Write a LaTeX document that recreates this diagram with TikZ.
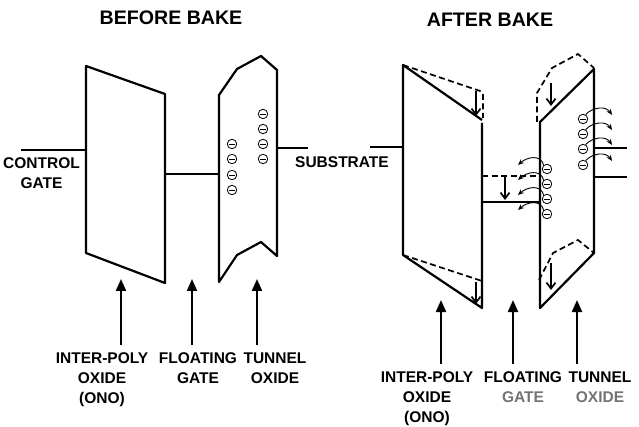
\documentclass[tikz,border=0pt]{standalone}
\usepackage{fontspec}
\setmainfont{Liberation Sans}
\usetikzlibrary{arrows.meta}
\tikzstyle{electron}=[circle,draw=black,fill=white,line width=0.8pt,
                      inner sep=0pt,minimum size=9.5pt,
                      path picture={\draw[line width=0.8pt]
                        ([xshift=1.6pt]path picture bounding box.west) --
                        ([xshift=-1.6pt]path picture bounding box.east);}]
\tikzstyle{layer}=[line width=2.2pt,line join=round]
\tikzstyle{oldedge}=[line width=1.7pt,dash pattern=on 6pt off 3.5pt]
\tikzstyle{sink}=[line width=1.7pt,-{Straight Barb[length=6pt,width=9pt]}]
\tikzstyle{hop}=[line width=0.9pt,-{Stealth[length=6pt,width=5pt]}]
\tikzstyle{pointer}=[line width=2.2pt,shorten <=8pt,
                     -{Triangle[length=12pt,width=10pt]}]
\tikzstyle{parttext}=[font=\bfseries\fontsize{15.5}{20}\selectfont,
                      align=center,inner sep=0pt]
\tikzstyle{headtext}=[font=\bfseries\fontsize{19.6}{22}\selectfont,
                      inner sep=0pt]

\begin{document}
\begin{tikzpicture}[x=1pt,y=-1pt]
    \useasboundingbox (0,0) rectangle (639,427);
    \node (before) at (171,18) [headtext]{BEFORE BAKE};
    \node (after) at (490,20) [headtext]{AFTER BAKE};
    \node (cg) at (41.5,173) [parttext]{CONTROL\\GATE};
    \node (sub) at (342,162) [parttext]{SUBSTRATE};

    % before bake
    \draw[layer] (86,66) -- (165,94) -- (165,283) -- (86,253) -- cycle;
    \draw[layer] (219,95) -- (237,69) -- (261,56) -- (277,70) -- (277,256)
        -- (261,242) -- (237,255) -- (219,282) -- cycle;
    \draw[layer] (21,150) -- (86,150) (165,174) -- (219,174)
        (277,148) -- (308,148);
    \foreach \i/\x/\y in {1/232/144,2/232/159,3/232/175,4/232/190,
                          5/263/114,6/263/129,7/263/144,8/263/159}
        \node (eo\i) at (\x,\y) [electron]{};

    % after bake
    \draw[layer] (482,123) -- (482,308) -- (403,255) -- (403,65) -- (482,120);
    \draw[oldedge,rounded corners=3pt] (403,65) -- (483,92) -- (483,118);
    \draw[oldedge] (403,255) -- (482,281);
    \draw[sink] (476,91) -- (476,116);
    \draw[sink] (476,282) -- (476,304);
    \draw[layer] (370,147) -- (403,147) (482,202) -- (540,202);
    \draw[oldedge] (482,176) -- (540,176);
    \draw[sink] (505,176) -- (505,200);
    \draw[layer] (540,122) -- (594,69) -- (594,253) -- (540,308) -- cycle;
    \draw[oldedge] (537,122) -- (537,93) -- (552,68) -- (578,54) -- (594,68);
    \draw[oldedge] (539,280) -- (553,253) -- (578,240) -- (594,253);
    \draw[sink] (551,83) -- (551,106);
    \draw[sink] (551,263) -- (551,290);
    \draw[layer] (594,148) -- (627,148) (594,177) -- (627,177);
    \foreach \i/\y in {1/169,2/184,3/199,4/214} {
        \node (ea\i) at (547,\y) [electron]{};
        \coordinate (ha\i) at (518,\y-4);
        \draw[hop] (ea\i.130) .. controls +(-3,-11) and +(9,-8) .. (ha\i);
    }
    \foreach \i/\y in {1/119,2/134,3/149,4/165} {
        \node (eb\i) at (583,\y) [electron]{};
        \coordinate (hb\i) at (612,\y-4);
        \draw[hop] (eb\i.60) .. controls +(8,-8) and +(-6,-9) .. (hb\i);
    }

    % labels
    \node (ipo1) at (102,352.5) [parttext,anchor=north]{INTER-POLY\\OXIDE\\(ONO)};
    \node (fg1) at (198,352.5) [parttext,anchor=north]{FLOATING\\GATE};
    \node (to1) at (275,352.5) [parttext,anchor=north]{TUNNEL\\OXIDE};
    \node (ipo2) at (427,371.5) [parttext,anchor=north]{INTER-POLY\\OXIDE\\(ONO)};
    \node (fg2) at (523,371.5) [parttext,anchor=north]{FLOATING\\\textcolor{black!55}{GATE}};
    \node (to2) at (600,371.5) [parttext,anchor=north]{TUNNEL\\\textcolor{black!55}{OXIDE}};
    \coordinate (ipo1tip) at (121,279);
    \coordinate (fg1tip) at (192,279);
    \coordinate (to1tip) at (257,279);
    \coordinate (ipo2tip) at (441,300);
    \coordinate (fg2tip) at (513,300);
    \coordinate (to2tip) at (577,300);
    \foreach \n in {ipo1,fg1,to1,ipo2,fg2,to2}
        \draw[pointer] (\n.north -| \n tip) -- (\n tip);
\end{tikzpicture}
\end{document}
